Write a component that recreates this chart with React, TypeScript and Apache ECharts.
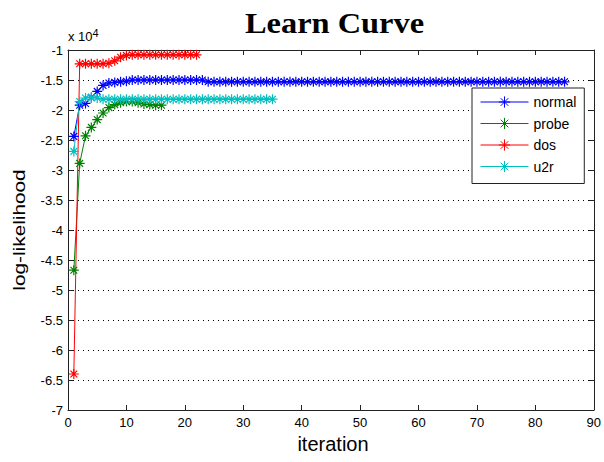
import React, { useEffect, useRef } from "react";
import * as echarts from "echarts";

// Log-likelihood per iteration (iterations start at 1)
const normalValues = [
  -24400, -19200, -18900, -17900, -16900, -15900, -15500, -15400, -15300, -15200,
  -15000, -15000, -15000, -15000, -15000, -15000, -15000, -15000, -15000, -15000,
  -15000, -15000, -15000, -15300, -15300, -15300, -15300, -15300, -15300, -15300,
  -15300, -15300, -15300, -15300, -15300, -15300, -15300, -15300, -15300, -15300,
  -15300, -15300, -15300, -15300, -15300, -15300, -15300, -15300, -15300, -15300,
  -15300, -15300, -15300, -15300, -15300, -15300, -15300, -15300, -15300, -15300,
  -15300, -15300, -15300, -15300, -15300, -15300, -15300, -15300, -15300, -15300,
  -15300, -15300, -15300, -15300, -15300, -15300, -15300, -15300, -15300, -15300,
  -15300, -15300, -15300, -15300, -15300,
];
const probeValues = [
  -46700, -28900, -24300, -22900, -21600, -20500, -19600, -19100, -18800, -18600,
  -18600, -18800, -19000, -19100, -19200, -19200,
];
const dosValues = [
  -64000, -12300, -12300, -12300, -12300, -12300, -12200, -11800, -11200, -10900,
  -10800, -10800, -10800, -10800, -10800, -10800, -10800, -10800, -10800, -10800,
  -10800, -10800,
];
const u2rValues = [
  -26900, -18600, -18000, -17900, -18000, -18200, -18200, -18200, -18200, -18200,
  -18200, -18200, -18200, -18200, -18200, -18200, -18200, -18200, -18200, -18200,
  -18200, -18200, -18200, -18200, -18200, -18200, -18200, -18200, -18200, -18200,
  -18200, -18200, -18200, -18200, -18200,
];

const seriesNames = ["normal", "probe", "dos", "u2r"];
const seriesColors = ["#0000ff", "#008000", "#ff0000", "#00bfbf"];
const seriesValues = [normalValues, probeValues, dosValues, u2rValues];

const titleText = "Learn Curve";
const xLabel = "iteration";
const yLabel = "log-likelihood";

const STAR = "path://M5,0L5,10M0,5L10,5M1.6,1.6L8.4,8.4M1.6,8.4L8.4,1.6";

export default function App() {
  const ref = useRef<HTMLDivElement>(null);

  useEffect(() => {
    if (!ref.current) return;
    const chart = echarts.init(ref.current, null, { renderer: "svg" });
    const axisLineStyle = { color: "#222", width: 1 };
    const font = "Liberation Sans, Arial, sans-serif";

    const series = seriesNames.map((name, si) => ({
      name,
      type: "line",
      xAxisIndex: 0,
      yAxisIndex: 0,
      data: seriesValues[si].map((v, i) => [i + 1, v]),
      symbol: STAR,
      symbolSize: 10,
      showSymbol: true,
      lineStyle: { color: seriesColors[si], width: 1 },
      itemStyle: { color: seriesColors[si], borderColor: seriesColors[si], borderWidth: 1.2 },
      emphasis: { disabled: true },
    }));

    chart.setOption({
      animation: false,
      backgroundColor: "#fff",
      grid: { left: 68, right: 6, top: 50, bottom: 52, containLabel: false },
      xAxis: [
        {
          type: "value",
          min: 0,
          max: 90,
          interval: 10,
          position: "bottom",
          axisLine: { show: true, onZero: false, lineStyle: axisLineStyle },
          axisTick: { show: true, inside: true, length: 5, lineStyle: axisLineStyle },
          axisLabel: { show: true, color: "#000", fontSize: 13, fontFamily: font, margin: 6 },
          splitLine: { show: false },
        },
        {
          type: "value",
          min: 0,
          max: 90,
          interval: 10,
          position: "top",
          axisLine: { show: true, onZero: false, lineStyle: axisLineStyle },
          axisTick: { show: true, inside: true, length: 5, lineStyle: axisLineStyle },
          axisLabel: { show: false },
          splitLine: { show: false },
        },
      ],
      yAxis: [
        {
          type: "value",
          min: -70000,
          max: -10000,
          interval: 5000,
          position: "left",
          axisLine: { show: true, onZero: false, lineStyle: axisLineStyle },
          axisTick: { show: true, inside: true, length: 5, lineStyle: axisLineStyle },
          axisLabel: {
            show: true,
            color: "#000",
            fontSize: 13,
            fontFamily: font,
            margin: 5,
            formatter: (v: number) => String(v / 10000),
          },
          splitLine: { show: true, lineStyle: { color: "#000", width: 1, type: [1, 4] } },
        },
        {
          type: "value",
          min: -70000,
          max: -10000,
          interval: 5000,
          position: "right",
          axisLine: { show: true, onZero: false, lineStyle: axisLineStyle },
          axisTick: { show: true, inside: true, length: 5, lineStyle: axisLineStyle },
          axisLabel: { show: false },
          splitLine: { show: false },
        },
      ],
      legend: {
        data: seriesNames,
        orient: "vertical",
        left: 472,
        top: 88,
        padding: [7, 8, 10, 8],
        itemWidth: 48,
        itemHeight: 14,
        itemGap: 7.5,
        backgroundColor: "#fff",
        borderColor: "#222",
        borderWidth: 1,
        borderRadius: 0,
        selectedMode: false,
        lineStyle: { width: 1 },
        itemStyle: { borderWidth: 1 },
        textStyle: { color: "#000", fontSize: 14, fontFamily: font, padding: [0, 0, 0, 0] },
      },
      graphic: [
        {
          type: "text",
          x: 245,
          y: 8,
          scaleX: 1.08,
          style: {
            text: titleText,
            font: "bold 30px 'Liberation Serif', 'Times New Roman', serif",
            fill: "#000",
          },
        },
        {
          type: "text",
          x: 68,
          y: 27,
          style: {
            text: "x 10{sup|4}",
            fill: "#000",
            font: "13px " + font,
            rich: { sup: { fontSize: 11, fontFamily: font, verticalAlign: "top", padding: [0, 0, 8, 0] } },
          } as any,
        },
        {
          type: "text",
          x: 11,
          y: 230,
          rotation: Math.PI / 2,
          scaleX: 1.3,
          style: {
            text: yLabel,
            font: "16px " + font,
            fill: "#000",
            align: "center",
            verticalAlign: "top",
          },
        },
        {
          type: "text",
          x: 333,
          y: 434,
          style: {
            text: xLabel,
            font: "20px " + font,
            fill: "#000",
            align: "center",
            verticalAlign: "top",
          },
        },
      ],
      series,
    });
    return () => chart.dispose();
  }, []);

  return (
    <div
      ref={ref}
      style={{ position: "fixed", left: 0, top: 0, width: 604, height: 462, background: "#fff" }}
    />
  );
}
